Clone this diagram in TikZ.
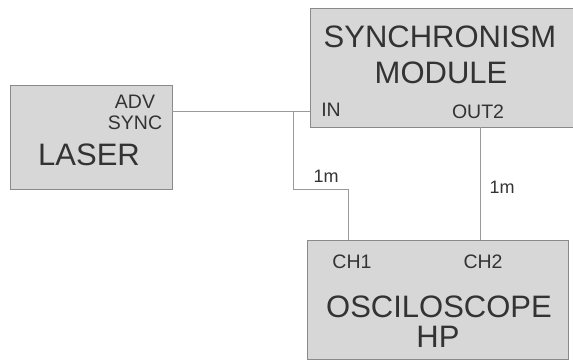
\documentclass[tikz,border=0pt]{standalone}
\usepackage{fontspec}
\setmainfont{Liberation Sans}
\definecolor{boxfill}{HTML}{D7D7D7}
\definecolor{boxline}{HTML}{8A8A8A}
\definecolor{txt}{HTML}{333333}
\definecolor{wire}{HTML}{9A9A9A}
\tikzset{
  unit/.style={draw=boxline, fill=boxfill, line width=0.9pt, inner sep=0pt},
  big/.style={text=txt, font=\fontsize{31}{31}\selectfont, inner sep=0pt},
  small/.style={text=txt, font=\fontsize{19.5}{19.5}\selectfont, inner sep=0pt},
  len/.style={text=txt, font=\fontsize{18}{18}\selectfont, inner sep=0pt},
  wireline/.style={draw=wire, line width=0.8pt}
}
\begin{document}
\begin{tikzpicture}[x=1pt,y=-1pt]
\useasboundingbox (0,0) rectangle (573,361);
% boxes
\node[unit, minimum width=162pt, minimum height=104pt] (laser) at (91,137) {};
\node[unit, minimum width=264pt, minimum height=119pt] (sync) at (442,67.5) {};
\node[unit, minimum width=261pt, minimum height=119pt] (osc) at (437.5,299.5) {};
% texts
\node[small] (adv) at (135,102) {ADV};
\node[small] (advsync) at (135,123) {SYNC};
\node[big] (lasertxt) at (89,155) {LASER};
\node[big] (synctxt) at (440,37) {SYNCHRONISM};
\node[big] (modtxt) at (441,73) {MODULE};
\node[small] (in) at (331,110) {IN};
\node[small] (out2) at (478,112) {OUT2};
\node[small] (ch1) at (352,262) {CH1};
\node[small] (ch2) at (483,262) {CH2};
\node[big] (osctxt) at (439,307) {OSCILOSCOPE};
\node[big] (hp) at (438,337) {HP};
\node[len] (len1) at (326,176) {1m};
\node[len] (len2) at (502,187) {1m};
% connectors
\coordinate (j) at (293,111);
\coordinate (k1) at (293,189);
\coordinate (k2) at (348,189);
\coordinate (o2) at (480,0);
\draw[wireline] (laser.east |- j) -- (sync.west |- j);
\draw[wireline] (j) -- (k1) -- (k2) -- (k2 |- osc.north);
\draw[wireline] (o2 |- sync.south) -- (o2 |- osc.north);
\end{tikzpicture}
\end{document}
